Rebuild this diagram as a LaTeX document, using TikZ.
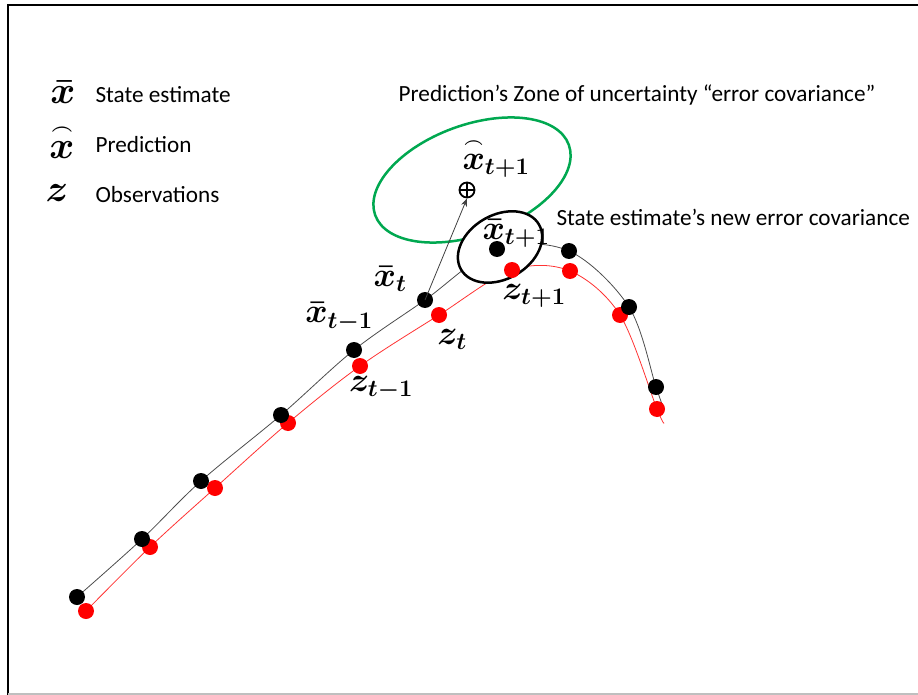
\RequirePackage{fix-cm}
\documentclass[tikz,border=0pt]{standalone}
\usepackage{amsmath,amssymb}
\usepackage[no-math]{fontspec}
\setmainfont{Carlito}
\usetikzlibrary{arrows.meta}
\definecolor{zonegreen}{RGB}{0,168,80}
\newcommand{\arcx}{\overset{\scriptscriptstyle\frown}{x}}

\begin{document}
\begin{tikzpicture}[x=1pt,y=-1pt,
  sdot/.style={circle,fill=black,inner sep=0pt,minimum size=16pt},
  odot/.style={circle,fill=red,inner sep=0pt,minimum size=16pt},
  lbl/.style={font=\fontsize{34}{38}\selectfont\boldmath,inner sep=1pt},
  key/.style={font=\fontsize{38}{42}\selectfont\boldmath,inner sep=1pt},
  txt/.style={font=\fontsize{23.2}{27}\selectfont}]
\useasboundingbox (0,0) rectangle (918,695);
\draw[line width=2pt] (8,695) -- (8,5) -- (918,5);
\draw[black!25,line width=1.5pt] (8,694) -- (918,694);
% state estimates and observations
\foreach \n/\x/\y in {1/77/597,2/142/539,3/201/481,4/281/415,5/354/350,
  6/425/300,7/497/249,8/569/251,9/629/307,10/656/387,11/662/404}
  \coordinate (s\n) at (\x,\y);
\foreach \n/\x/\y in {1/86/611,2/150/547,3/215/488,4/288/423,5/360/366,
  6/439/315,7/512/270,8/570/271,9/620/315,10/657/409,11/664/423}
  \coordinate (o\n) at (\x,\y);
\draw[black!70,line width=0.8pt] plot[smooth,tension=0.55] coordinates
  {(s1) (s2) (s3) (s4) (s5) (s6) (s7) (s8) (s9) (s10) (s11)};
\draw[red!80,line width=0.8pt] plot[smooth,tension=0.55] coordinates
  {(o1) (o2) (o3) (o4) (o5) (o6) (o7) (o8) (o9) (o10) (o11)};
% error covariances
\draw[zonegreen,line width=2.5pt,rotate around={20:(472,180)}]
  (472,180) ellipse [x radius=103,y radius=55];
\filldraw[fill=white,line width=2.5pt,rotate around={30:(500,247)}]
  (500,247) ellipse [x radius=45,y radius=32];
\foreach \n in {1,...,10} {
  \node[odot] (z\n) at (o\n) {};
  \node[sdot] (x\n) at (s\n) {};
}
\node[circle,draw,line width=1.8pt,minimum size=15pt,inner sep=0pt] (pred) at (467,190) {};
\draw[line width=1.6pt] (pred.north) -- (pred.south) (pred.west) -- (pred.east);
\draw[black!75,line width=0.8pt,-{Stealth[length=8pt,width=6pt]}] (x6.center) -- (pred.south);
% labels
\node[lbl] (lpred) at (496,158) {$\arcx_{t+1}$};
\node[lbl] (lxnew) at (516,233) {$\bar{x}_{t+1}$};
\node[lbl] (lxt) at (390,279) {$\bar{x}_t$};
\node[lbl] (lzt1) at (534,296) {$z_{t+1}$};
\node[lbl] (lxtm) at (339,317) {$\bar{x}_{t-1}$};
\node[lbl] (lzt) at (452,339) {$z_t$};
\node[lbl] (lztm) at (381,388) {$z_{t-1}$};
% legend
\node[key] (kx) at (63,92) {$\bar{x}$};
\node[key] (kp) at (62,141) {$\arcx$};
\node[key] (kz) at (57,193) {$z$};
\node[txt,anchor=west] (tx) at (92,95) {State estimate};
\node[txt,anchor=west] (tp) at (92,145) {Prediction};
\node[txt,anchor=west] (tz) at (92,195) {Observations};
\node[txt] (tzone) at (637,95) {Prediction’s Zone of uncertainty “error covariance”};
\node[txt,anchor=west] (tcov) at (553,217) {State estimate’s new error covariance};
\end{tikzpicture}
\end{document}
